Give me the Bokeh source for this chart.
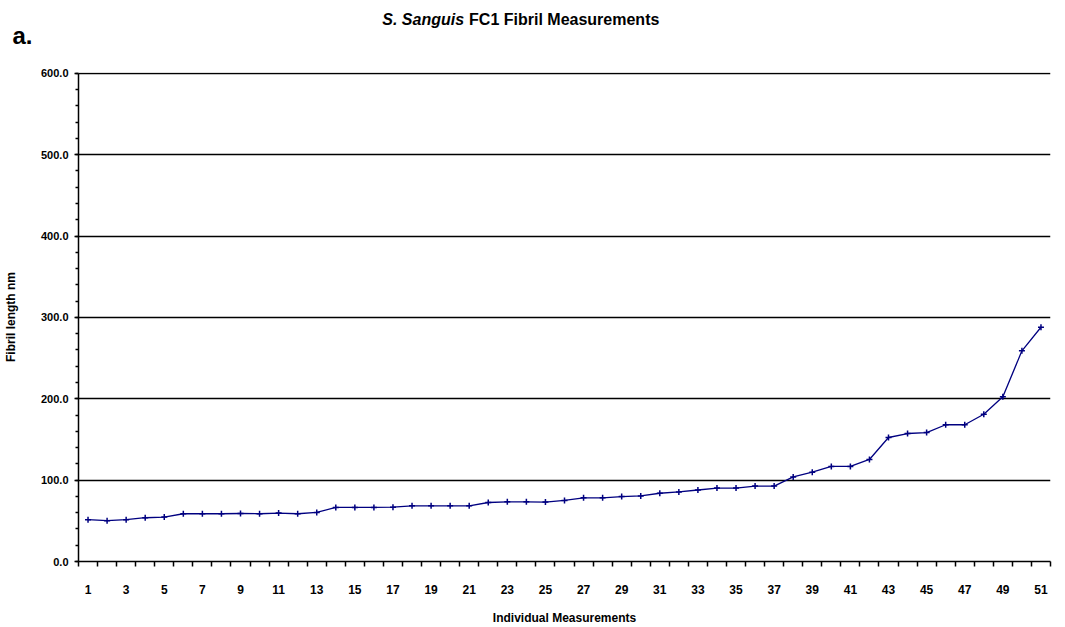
from bokeh.plotting import figure
from bokeh.models import FixedTicker, PrintfTickFormatter, Range1d
from bokeh.layouts import column
from bokeh.core.properties import value
from bokeh.embed import file_html
from bokeh.resources import INLINE

measurement = list(range(1, 52))
length_nm = [51.4, 50.2, 51.4, 53.8, 54.6, 58.7, 58.7, 58.7, 59.0, 58.7,
             59.5, 58.7, 60.3, 66.4, 66.4, 66.4, 66.8, 68.4, 68.4, 68.4,
             68.4, 72.5, 73.3, 73.3, 73.0, 75.0, 78.2, 78.2, 79.8, 80.6,
             83.9, 85.5, 87.9, 90.3, 90.3, 92.7, 92.7, 104.0, 109.7, 116.9,
             116.9, 125.4, 152.4, 157.3, 158.5, 168.1, 168.1, 181.0, 202.4, 258.9,
             287.9]
y_ticks = [0, 100, 200, 300, 400, 500, 600]
x_label_ticks = list(range(1, 52, 2))
title_italic = "S. Sanguis"
title_rest = "FC1 Fibril Measurements"
panel_label = "a."

FONT = "Liberation Sans"
NAVY = "#000080"

W = 1065
HEAD_H = 64
FRAME_L, FRAME_R = 77, 1050

# ---- header strip (title + panel letter) ----
# its frame is aligned with the chart frame below (77..1050 px), so x data == pixel
head = figure(width=W, height=HEAD_H, output_backend="svg", toolbar_location=None,
              x_range=Range1d(FRAME_L, FRAME_R), y_range=Range1d(HEAD_H, 0),
              x_axis_location=None, y_axis_location="left",
              min_border_left=FRAME_L, min_border_right=W - FRAME_R,
              min_border_top=0, min_border_bottom=0)
head.grid.visible = False
head.outline_line_color = None
head.yaxis.ticker = FixedTicker(ticks=[35], minor_ticks=[])
head.yaxis.major_label_overrides = {35: panel_label}
head.yaxis.axis_line_color = None
head.yaxis.major_tick_line_color = None
head.yaxis.minor_tick_line_color = None
head.yaxis.major_tick_out = 0
head.yaxis.major_tick_in = 0
head.yaxis.major_label_standoff = 46
head.yaxis.major_label_text_font = FONT
head.yaxis.major_label_text_font_style = "bold"
head.yaxis.major_label_text_font_size = "24px"
head.yaxis.major_label_text_color = "black"
head.text(x=[463], y=[19], text=[title_italic], text_font=value(FONT),
          text_font_style="bold italic", text_font_size="16px",
          text_align="right", text_baseline="middle", text_color="black")
head.text(x=[468], y=[19], text=[title_rest], text_font=value(FONT),
          text_font_style="bold", text_font_size="16px",
          text_align="left", text_baseline="middle", text_color="black")

# ---- main chart ----
p = figure(width=W, height=627 - HEAD_H, output_backend="svg", toolbar_location=None,
           x_range=Range1d(0.5, 51.5), y_range=Range1d(0, 601),
           min_border_left=FRAME_L, min_border_right=W - FRAME_R,
           min_border_top=8, min_border_bottom=62)
p.outline_line_color = None

p.line(measurement, length_nm, line_color=NAVY, line_width=1.3)
p.scatter(measurement, length_nm, marker="cross", size=6, line_color=NAVY, line_width=1.5)

p.xaxis.ticker = FixedTicker(ticks=x_label_ticks, minor_ticks=[i + 0.5 for i in range(0, 52)])
p.xaxis.major_tick_out = 0
p.xaxis.major_tick_in = 0
p.xaxis.minor_tick_out = 5
p.xaxis.minor_tick_in = 0
p.xaxis.major_label_standoff = 18
p.xaxis.axis_label = "Individual Measurements"
p.xaxis.axis_label_standoff = 14

p.yaxis.ticker = FixedTicker(ticks=y_ticks, minor_ticks=list(range(0, 601, 20)))
p.yaxis.formatter = PrintfTickFormatter(format="%.1f")
p.yaxis.major_tick_out = 4
p.yaxis.major_tick_in = 0
p.yaxis.minor_tick_out = 3
p.yaxis.minor_tick_in = 0
p.yaxis.major_label_standoff = 6
p.yaxis.axis_label = "Fibril length nm"
p.yaxis.axis_label_standoff = 20
p.yaxis.bounds = (0, 600)

for ax in (p.xaxis, p.yaxis):
    ax.axis_line_color = "black"
    ax.axis_line_width = 1.5
    ax.major_tick_line_color = "black"
    ax.minor_tick_line_color = "black"
    ax.major_tick_line_width = 1.5
    ax.minor_tick_line_width = 1.5
    ax.major_label_text_font = FONT
    ax.major_label_text_font_style = "bold"
    ax.major_label_text_font_size = "11px"
    ax.major_label_text_color = "black"
    ax.axis_label_text_font = FONT
    ax.axis_label_text_font_style = "bold"
    ax.axis_label_text_font_size = "12px"
    ax.axis_label_text_color = "black"
p.xaxis.major_label_text_font_size = "12px"

p.xgrid.grid_line_color = None
p.ygrid.grid_line_color = "black"
p.ygrid.grid_line_width = 1.5

layout = column(head, p, spacing=0)
open("out.html", "w").write(file_html(layout, INLINE))
